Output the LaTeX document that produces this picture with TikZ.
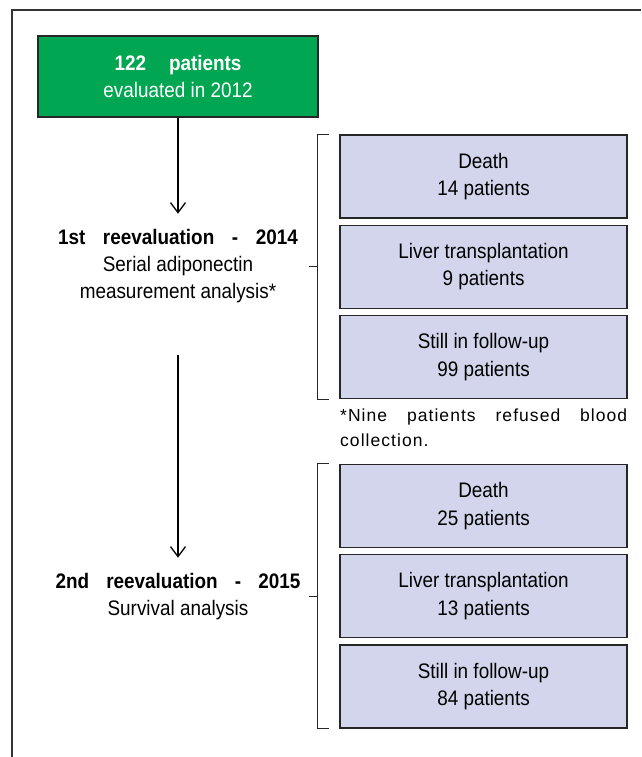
\documentclass[tikz,border=0pt]{standalone}
\usepackage{fontspec}
\setmainfont{Liberation Sans}[FakeStretch=0.9]
\newfontfamily\notefont{Liberation Sans}[LetterSpace=6]
\usetikzlibrary{arrows.meta, positioning}
\definecolor{startgreen}{RGB}{0,166,81}
\definecolor{outlilac}{RGB}{211,213,236}

\begin{document}
\begin{tikzpicture}[x=1pt, y=-1pt,
		start/.style = {draw=black!85, line width=1.3pt, fill=startgreen, text=white, minimum width=280pt, minimum height=81pt, align=center, font=\fontsize{21}{27}\selectfont},
		outcome/.style = {draw=black!85, line width=1.3pt, fill=outlilac, minimum width=287pt, minimum height=83pt, align=center, font=\fontsize{21}{27.5}\selectfont},
		stage/.style = {align=center, font=\fontsize{21}{27}\selectfont},
		note/.style = {align=left, inner sep=0pt, font=\notefont\fontsize{17.5}{25}\selectfont},
		bracket/.style = {draw=black!85, line width=1.1pt},
		node distance=6pt,
		>={Straight Barb[length=10pt, width=15pt]}
		]
		\useasboundingbox (0,0) rectangle (641,757);
		% Rahmen
		\draw[black!80, line width=1.2pt] (12,757) |- (641,10);
		
		% Bloques
		\node[start] (cohort) at (178,76.5) {\makebox[127pt][s]{\bfseries 122 patients}\\evaluated in 2012};
		\node[stage] (reeval1) at (178,266) {\makebox[240pt][s]{\bfseries 1st reevaluation - 2014}\\Serial adiponectin\\measurement analysis*};
		\node[stage] (reeval2) at (178,596.5) {\makebox[245pt][s]{\bfseries 2nd reevaluation - 2015}\\Survival analysis};
		\coordinate (split) at (178,355);
		
		\node[outcome] (death1) at (483.5,176.5) {Death\\14 patients};
		\node[outcome, below=of death1] (liver1) {Liver transplantation\\9 patients};
		\node[outcome, below=of liver1] (follow1) {Still in follow-up\\99 patients};
		\node[note, anchor=north west] (footnote) at (340,409) {\makebox[287pt][s]{*Nine patients refused blood}\\collection.};
		\node[outcome] (death2) at (483.5,506) {Death\\25 patients};
		\node[outcome, below=of death2] (liver2) {Liver transplantation\\13 patients};
		\node[outcome, below=of liver2] (follow2) {Still in follow-up\\84 patients};
		
		% Conexiones
		\draw[->, line width=1.3pt] (cohort.south) -- ([yshift=12pt]reeval1.north);
		\draw[->, line width=1.3pt] (split) -- ([yshift=12pt]reeval2.north);
		
		% Klammern
		\draw[bracket] ([xshift=-10pt]death1.north west) -| ([xshift=-22pt]follow1.south west) -- ([xshift=-10pt]follow1.south west);
		\draw[bracket] ([xshift=-22pt]liver1.west) -- ++(-8,0);
		\draw[bracket] ([xshift=-10pt]death2.north west) -| ([xshift=-22pt]follow2.south west) -- ([xshift=-10pt]follow2.south west);
		\draw[bracket] ([xshift=-22pt]liver2.west) -- ++(-8,0);
	\end{tikzpicture}
\end{document}
